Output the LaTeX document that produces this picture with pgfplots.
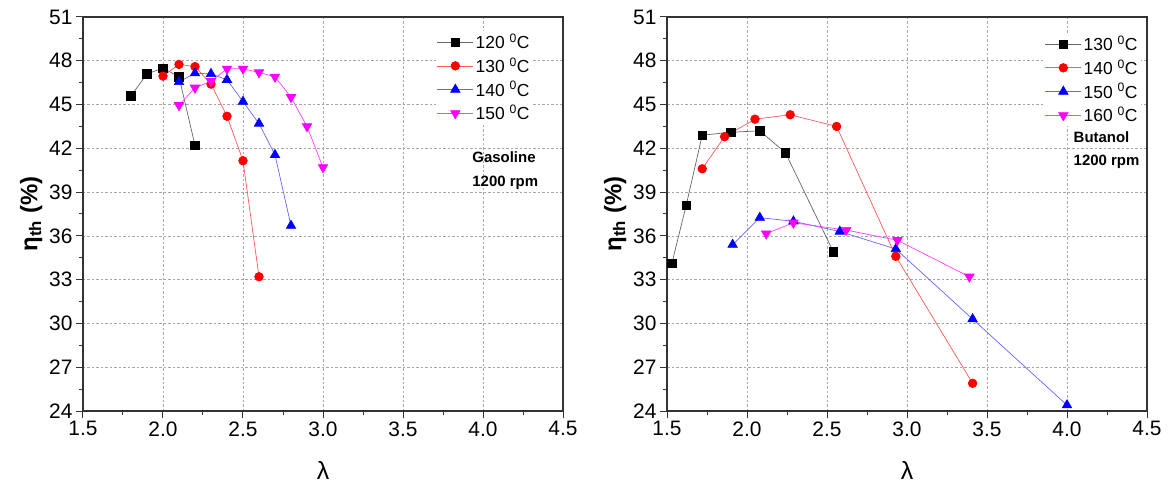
\documentclass[border=0pt]{standalone}
\usepackage{fontspec}
\setmainfont{Liberation Sans}
\usepackage{pgfplots}
\pgfplotsset{compat=1.18}
\definecolor{mag}{RGB}{255,0,255}
\definecolor{bl}{RGB}{0,0,255}
\definecolor{rd}{RGB}{255,0,0}

\pgfplotsset{
  myax/.style={
    scale only axis, width=480bp, height=394bp,
    anchor=south west,
    xmin=1.5, xmax=4.5, ymin=24, ymax=51,
    xtick={1.5,2.0,2.5,3.0,3.5,4.0,4.5},
    ytick={24,27,30,33,36,39,42,45,48,51},
    minor x tick num=1, minor y tick num=1,
    tick pos=left, tick align=outside,
    major tick length=7bp, minor tick length=4bp,
    axis line style={line width=1.5bp, black!80},
    every tick/.style={black!80, line width=1bp},
    grid=major,
    major grid style={gray!70, line width=0.6bp, dash pattern=on 2.5bp off 2bp},
    /pgf/number format/assume math mode=true,
    tick label style={font=\fontsize{21}{23}\selectfont},
    x tick label style={/pgf/number format/.cd, fixed, fixed zerofill, precision=1},
    xlabel={λ},
    xlabel style={at={(axis description cs:0.5,-0.152)}, anchor=center, font=\fontsize{25}{27}\selectfont},
    ylabel={\bfseries η\textsubscript{th} (\%)},
    ylabel style={at={(axis description cs:-0.108,0.5)}, anchor=center, font=\fontsize{24}{26}\selectfont},
    legend cell align=left,
    legend image code/.code={\draw[mark repeat=2,mark phase=2] plot coordinates {(0bp,0bp)(18bp,0bp)(36bp,0bp)};},
    legend style={draw=none, fill=white, inner sep=1bp, font=\fontsize{17.5}{19}\selectfont, row sep=3.5bp},
  },
  s1/.style={color=black!60, line width=0.7bp, mark=square*, mark size=4.2bp, mark options={fill=black, draw=black}},
  s2/.style={color=rd!65, line width=0.7bp, mark=*, mark size=4.3bp, mark options={fill=rd, draw=rd}},
  s3/.style={color=bl!60, line width=0.7bp, mark=triangle*, mark size=5.4bp, mark options={fill=bl, draw=bl}},
  s4/.style={color=mag!75, line width=0.7bp, mark=triangle*, mark size=5.4bp, mark options={fill=mag, draw=mag, rotate=180}},
}

\begin{document}
\begin{tikzpicture}
\useasboundingbox (-83bp,-78bp) rectangle (1086bp,411bp);

\begin{axis}[myax, at={(0bp,0bp)},
  legend style={at={(axis description cs:0.735,0.965)}, anchor=north west}]
\addplot[s1] coordinates {(1.8,45.6)(1.9,47.1)(2.0,47.5)(2.1,46.9)(2.2,42.2)};
\addlegendentry{120 \textsuperscript{0}C}
\addplot[s2] coordinates {(2.0,46.95)(2.1,47.75)(2.2,47.6)(2.3,46.4)(2.4,44.2)(2.5,41.15)(2.6,33.2)};
\addlegendentry{130 \textsuperscript{0}C}
\addplot[s3] coordinates {(2.1,46.55)(2.2,47.15)(2.3,47.1)(2.4,46.7)(2.5,45.2)(2.6,43.7)(2.7,41.55)(2.8,36.7)};
\addlegendentry{140 \textsuperscript{0}C}
\addplot[s4] coordinates {(2.1,44.95)(2.2,46.15)(2.3,46.6)(2.4,47.45)(2.5,47.45)(2.6,47.2)(2.7,46.9)(2.8,45.5)(2.9,43.5)(3.0,40.7)};
\addlegendentry{150 \textsuperscript{0}C}
\node[anchor=west, font=\bfseries\fontsize{15}{17}\selectfont] at (rel axis cs:0.804,0.645) {Gasoline};
\node[anchor=west, font=\bfseries\fontsize{15}{17}\selectfont] at (rel axis cs:0.804,0.579) {1200 rpm};
\end{axis}

\begin{axis}[myax, at={(584bp,0bp)},
  legend style={at={(axis description cs:0.785,0.96)}, anchor=north west}]
\addplot[s1] coordinates {(1.53,34.1)(1.62,38.1)(1.72,42.9)(1.90,43.1)(2.08,43.2)(2.24,41.7)(2.54,34.9)};
\addlegendentry{130 \textsuperscript{0}C}
\addplot[s2] coordinates {(1.72,40.6)(1.86,42.8)(2.05,44.0)(2.27,44.3)(2.56,43.5)(2.93,34.6)(3.41,25.9)};
\addlegendentry{140 \textsuperscript{0}C}
\addplot[s3] coordinates {(1.91,35.4)(2.08,37.25)(2.29,37.0)(2.58,36.3)(2.93,35.1)(3.41,30.3)(4.0,24.4)};
\addlegendentry{150 \textsuperscript{0}C}
\addplot[s4] coordinates {(2.12,36.15)(2.29,36.9)(2.62,36.4)(2.94,35.7)(3.39,33.2)};
\addlegendentry{160 \textsuperscript{0}C}
\node[anchor=west, font=\bfseries\fontsize{15}{17}\selectfont] at (rel axis cs:0.84,0.696) {Butanol};
\node[anchor=west, font=\bfseries\fontsize{15}{17}\selectfont] at (rel axis cs:0.84,0.633) {1200 rpm};
\end{axis}
\end{tikzpicture}
\end{document}
